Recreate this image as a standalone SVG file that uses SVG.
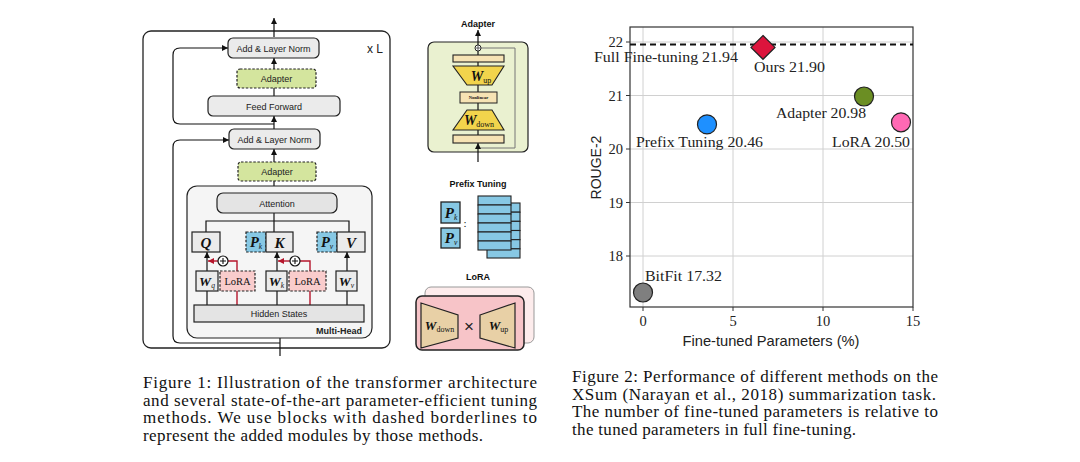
<svg xmlns="http://www.w3.org/2000/svg" width="1080" height="462" viewBox="0 0 1080 462">
<defs>
<marker id="ah" viewBox="0 0 10 10" refX="10" refY="5" markerWidth="6" markerHeight="6" markerUnits="userSpaceOnUse" orient="auto"><path d="M0,0 L10,5 L0,10 z" fill="#111"/></marker>
<marker id="ahr" viewBox="0 0 10 10" refX="10" refY="5" markerWidth="6" markerHeight="6" markerUnits="userSpaceOnUse" orient="auto"><path d="M0,0 L10,5 L0,10 z" fill="#b5152b"/></marker>
</defs>
<style>
.sans{font-family:"Liberation Sans",Arial,sans-serif;fill:#222}
.lbl{font-family:"Liberation Sans",Arial,sans-serif;font-size:9px;fill:#222;text-anchor:middle}
.ttl{font-family:"Liberation Sans",Arial,sans-serif;font-size:9px;font-weight:bold;fill:#111;text-anchor:middle}
.math{font-family:"Liberation Serif","Times New Roman",serif;font-weight:bold;font-style:italic;fill:#111;text-anchor:middle}
.sub{font-style:italic;font-weight:normal}
.rom{font-style:normal;font-weight:normal}
.serif{font-family:"Liberation Serif","Times New Roman",serif;fill:#111}
.gbox{fill:#ebebeb;stroke:#222;stroke-width:1.2}
.dash{stroke-dasharray:2.5 1.6}
.ln{stroke:#111;stroke-width:1.2;fill:none}
.red{stroke:#b5152b;stroke-width:1.4;fill:none}
.grid{stroke:#d0d0d0;stroke-width:1}
.tick{stroke:#333;stroke-width:1}
.tl{font-family:"Liberation Serif","Times New Roman",serif;font-size:14.5px;fill:#222}
.pl{font-family:"Liberation Serif","Times New Roman",serif;font-size:15.5px;fill:#222}
.cap{font-family:"Liberation Serif","Times New Roman",serif;font-size:17px;fill:#111}
.pt{stroke:#222;stroke-width:1.2}
</style>

<!-- ===== Transformer block ===== -->
<g id="outer-block">
<rect x="143" y="31" width="247" height="317" rx="8" fill="#fff" stroke="#222" stroke-width="1.3"/>
<text x="367" y="53" class="sans" font-size="12">x L</text>
</g>

<g id="connectors">
<line x1="274" y1="37" x2="274" y2="18" class="ln" marker-end="url(#ah)"/>
<line x1="274" y1="69" x2="274" y2="58" class="ln" marker-end="url(#ah)"/>
<line x1="274" y1="96" x2="274" y2="88" class="ln"/>
<line x1="274" y1="129" x2="274" y2="116" class="ln" marker-end="url(#ah)"/>
<path d="M274,124 H180 Q173,124 173,117 V55 Q173,48 180,48 H228" class="ln" marker-end="url(#ah)"/>
<line x1="274" y1="162" x2="274" y2="149" class="ln" marker-end="url(#ah)"/>
<line x1="274" y1="193" x2="274" y2="181" class="ln"/>
<path d="M280,343 H180 Q173,343 173,336 V147 Q173,140 180,140 H229" class="ln" marker-end="url(#ah)"/>
<line x1="280" y1="356" x2="280" y2="322" class="ln" marker-end="url(#ah)"/>
</g>

<g id="add-norm-1">
<rect x="228" y="38" width="91" height="20" rx="5" class="gbox"/>
<text x="273.5" y="51.5" class="lbl">Add &amp; Layer Norm</text>
</g>
<g id="adapter-1">
<rect x="237" y="69" width="79" height="19" rx="3" fill="#d4e59e" stroke="#222" stroke-width="1.2" class="dash"/>
<text x="276.5" y="81.5" class="lbl">Adapter</text>
</g>
<g id="feed-forward">
<rect x="208" y="96" width="132" height="20" rx="5" class="gbox"/>
<text x="274" y="109.5" class="lbl">Feed Forward</text>
</g>
<g id="add-norm-2">
<rect x="229" y="129" width="91" height="20" rx="5" class="gbox"/>
<text x="274.5" y="142.5" class="lbl">Add &amp; Layer Norm</text>
</g>
<g id="adapter-2">
<rect x="238" y="162" width="78" height="19" rx="3" fill="#d4e59e" stroke="#222" stroke-width="1.2" class="dash"/>
<text x="277" y="174.5" class="lbl">Adapter</text>
</g>

<g id="multi-head">
<rect x="187" y="186" width="185" height="152" rx="10" fill="#f5f5f5" stroke="#222" stroke-width="1.2"/>
<text x="362" y="334" class="sans" font-size="9" font-weight="bold" text-anchor="end">Multi-Head</text>
</g>

<g id="mh-connectors">
<line x1="274" y1="213" x2="274" y2="232" class="ln"/>
<polyline points="206,232 206,221 349,221 349,232" class="ln"/>
<line x1="207" y1="305" x2="207" y2="291" class="ln"/>
<line x1="277" y1="305" x2="277" y2="291" class="ln"/>
<line x1="347" y1="305" x2="347" y2="291" class="ln"/>
<line x1="207" y1="271" x2="207" y2="252" class="ln" marker-end="url(#ah)"/>
<line x1="277" y1="271" x2="277" y2="252" class="ln" marker-end="url(#ah)"/>
<line x1="347" y1="271" x2="347" y2="252" class="ln" marker-end="url(#ah)"/>
<line x1="237" y1="305" x2="237" y2="291" class="red"/>
<line x1="310" y1="305" x2="310" y2="291" class="red"/>
<path d="M237,271 V261 H228" class="red"/>
<path d="M310,271 V261 H300" class="red"/>
<line x1="218" y1="261" x2="208" y2="261" class="red" marker-end="url(#ahr)"/>
<line x1="290" y1="261" x2="278" y2="261" class="red" marker-end="url(#ahr)"/>
</g>

<g id="attention">
<rect x="217" y="193" width="120" height="20" rx="6" fill="#e4e4e4" stroke="#222" stroke-width="1.2"/>
<text x="277" y="207" class="lbl" font-size="10">Attention</text>
</g>
<g id="q">
<rect x="192" y="232" width="28" height="20" class="gbox"/>
<text x="206" y="247.5" class="math" font-size="15">Q</text>
</g>
<g id="pk">
<rect x="246" y="232" width="20" height="20" fill="#87c8e4" stroke="#222" stroke-width="1.2" class="dash"/>
<text x="256" y="247" class="math" font-size="14.5">P<tspan class="sub" font-size="7.5" dy="2">k</tspan></text>
</g>
<g id="k">
<rect x="266" y="232" width="27" height="20" class="gbox"/>
<text x="279.5" y="247.5" class="math" font-size="15">K</text>
</g>
<g id="pv">
<rect x="317" y="232" width="20" height="20" fill="#87c8e4" stroke="#222" stroke-width="1.2" class="dash"/>
<text x="327" y="247" class="math" font-size="14.5">P<tspan class="sub" font-size="7.5" dy="2">v</tspan></text>
</g>
<g id="v">
<rect x="337" y="232" width="28" height="20" class="gbox"/>
<text x="351" y="247.5" class="math" font-size="15">V</text>
</g>
<g id="plus-q">
<circle cx="223" cy="261" r="5" fill="#fff" stroke="#111" stroke-width="1.2"/>
<path d="M220,261 H226 M223,258 V264" stroke="#111" stroke-width="1.1"/>
</g>
<g id="plus-k">
<circle cx="295" cy="261" r="5" fill="#fff" stroke="#111" stroke-width="1.2"/>
<path d="M292,261 H298 M295,258 V264" stroke="#111" stroke-width="1.1"/>
</g>
<g id="wq">
<rect x="196" y="271" width="22" height="20" class="gbox"/>
<text x="207" y="285.5" class="math" font-size="13.5">W<tspan class="sub" font-size="7.5" dy="2">q</tspan></text>
</g>
<g id="lora-q">
<rect x="220" y="271" width="35" height="20" fill="#f9cccc" stroke="#222" stroke-width="1.2" class="dash"/>
<text x="237.5" y="284.5" class="serif" font-size="10.5" text-anchor="middle">LoRA</text>
</g>
<g id="wk">
<rect x="266" y="271" width="21" height="20" class="gbox"/>
<text x="276.5" y="285.5" class="math" font-size="13.5">W<tspan class="sub" font-size="7.5" dy="2">k</tspan></text>
</g>
<g id="lora-k">
<rect x="289" y="271" width="37" height="20" fill="#f9cccc" stroke="#222" stroke-width="1.2" class="dash"/>
<text x="307.5" y="284.5" class="serif" font-size="10.5" text-anchor="middle">LoRA</text>
</g>
<g id="wv">
<rect x="336" y="271" width="21" height="20" class="gbox"/>
<text x="346.5" y="285.5" class="math" font-size="13.5">W<tspan class="sub" font-size="7.5" dy="2">v</tspan></text>
</g>
<g id="hidden-states">
<rect x="194" y="305" width="170" height="17" fill="#e4e4e4" stroke="#222" stroke-width="1.2"/>
<text x="279" y="316.5" class="lbl">Hidden States</text>
</g>

<!-- ===== Adapter detail ===== -->
<g id="adapter-detail">
<text x="478" y="27" class="ttl">Adapter</text>
<rect x="428" y="42" width="100" height="110" rx="6" fill="#eaf1d0" stroke="#222" stroke-width="1.2"/>
<path d="M478,148 H515 V48 H481" stroke="#777" stroke-width="1" fill="none"/>
<line x1="478" y1="135" x2="478" y2="51" class="ln"/>
<line x1="478" y1="45" x2="478" y2="30" class="ln" marker-end="url(#ah)"/>
<line x1="478" y1="162" x2="478" y2="143" class="ln" marker-end="url(#ah)"/>
<circle cx="478" cy="48" r="3" fill="#fff" stroke="#222" stroke-width="1"/>
<path d="M476,48 H480 M478,46 V50" stroke="#222" stroke-width="0.7"/>
<rect x="453" y="55" width="51" height="7" fill="#f6e3b4" stroke="#222" stroke-width="1.1"/>
<polygon points="453,66 504,66 492,85 467,85" fill="#f2d44c" stroke="#222" stroke-width="1.1"/>
<text x="481" y="80.5" class="math" font-size="14">W<tspan class="rom" font-size="8" dy="2">up</tspan></text>
<rect x="460" y="92" width="37" height="11" fill="#f6e3b4" stroke="#222" stroke-width="1"/>
<text x="478.5" y="99.3" class="serif" font-size="4.6" font-weight="bold" text-anchor="middle">Nonlinear</text>
<polygon points="467,110 492,110 504,130 453,130" fill="#f2d44c" stroke="#222" stroke-width="1.1"/>
<text x="479" y="125" class="math" font-size="14">W<tspan class="rom" font-size="8" dy="2">down</tspan></text>
<rect x="453" y="135" width="51" height="8" fill="#f6e3b4" stroke="#222" stroke-width="1.1"/>
</g>

<!-- ===== Prefix tuning detail ===== -->
<g id="prefix-detail">
<text x="478" y="187" class="ttl">Prefix Tuning</text>
<rect x="441" y="202" width="19" height="21" fill="#87c8e4" stroke="#222" stroke-width="1.3"/>
<text x="451" y="217.5" class="math" font-size="15">P<tspan class="sub" font-size="7.5" dy="2">k</tspan></text>
<rect x="441" y="228" width="19" height="20" fill="#87c8e4" stroke="#222" stroke-width="1.3"/>
<text x="451" y="243" class="math" font-size="15">P<tspan class="sub" font-size="7.5" dy="2">v</tspan></text>
<text x="465" y="227" class="serif" font-size="11" text-anchor="middle">:</text>
<g fill="#87c8e4" stroke="#222" stroke-width="1.1">
<rect x="487" y="203" width="33" height="9.17"/>
<rect x="487" y="212.17" width="33" height="9.17"/>
<rect x="487" y="221.33" width="33" height="9.17"/>
<rect x="487" y="230.5" width="33" height="9.17"/>
<rect x="487" y="239.67" width="33" height="9.17"/>
<rect x="487" y="248.83" width="33" height="9.17"/>
<rect x="478" y="196" width="33" height="9"/>
<rect x="478" y="205" width="33" height="9"/>
<rect x="478" y="214" width="33" height="9"/>
<rect x="478" y="223" width="33" height="9"/>
<rect x="478" y="232" width="33" height="9"/>
<rect x="478" y="241" width="33" height="9"/>
</g>
</g>

<!-- ===== LoRA detail ===== -->
<g id="lora-detail">
<text x="478" y="280" class="ttl">LoRA</text>
<rect x="425" y="287" width="109" height="56" rx="6" fill="#fdecec" stroke="#999" stroke-width="1"/>
<rect x="416" y="296" width="108" height="54" rx="6" fill="#f7c4c8" stroke="#222" stroke-width="1.5"/>
<polygon points="421,303 458,315 458,338 421,348" fill="#e8d0a6" stroke="#222" stroke-width="1.2"/>
<text x="439.5" y="330" class="math" font-size="13">W<tspan class="rom" font-size="8" dy="1.5">down</tspan></text>
<text x="469" y="332" class="sans" font-size="17" text-anchor="middle" fill="#444">×</text>
<polygon points="480,315 515,303 515,348 480,338" fill="#e8d0a6" stroke="#222" stroke-width="1.2"/>
<text x="498.5" y="330" class="math" font-size="13">W<tspan class="rom" font-size="8" dy="1.5">up</tspan></text>
</g>

<!-- ===== Chart ===== -->
<g id="chart-grid">
<line x1="643" y1="27" x2="643" y2="307" class="grid"/>
<line x1="733" y1="27" x2="733" y2="307" class="grid"/>
<line x1="823" y1="27" x2="823" y2="307" class="grid"/>
<line x1="630" y1="42" x2="913" y2="42" class="grid"/>
<line x1="630" y1="95.5" x2="913" y2="95.5" class="grid"/>
<line x1="630" y1="149" x2="913" y2="149" class="grid"/>
<line x1="630" y1="202.5" x2="913" y2="202.5" class="grid"/>
<line x1="630" y1="256" x2="913" y2="256" class="grid"/>
</g>
<g id="chart-axes">
<rect x="630" y="27" width="283" height="280" fill="none" stroke="#333" stroke-width="1.2"/>
<path d="M626,42 H630 M626,95.5 H630 M626,149 H630 M626,202.5 H630 M626,256 H630 M643,307 V311 M733,307 V311 M823,307 V311 M913,307 V311" class="tick"/>
<text x="623" y="46.5" class="tl" text-anchor="end">22</text>
<text x="623" y="100.5" class="tl" text-anchor="end">21</text>
<text x="623" y="154" class="tl" text-anchor="end">20</text>
<text x="623" y="207.5" class="tl" text-anchor="end">19</text>
<text x="623" y="261" class="tl" text-anchor="end">18</text>
<text x="643" y="326" class="tl" text-anchor="middle">0</text>
<text x="733" y="326" class="tl" text-anchor="middle">5</text>
<text x="823" y="326" class="tl" text-anchor="middle">10</text>
<text x="913" y="326" class="tl" text-anchor="middle">15</text>
<text x="771" y="346" class="sans" font-size="14.5" text-anchor="middle" textLength="177" lengthAdjust="spacingAndGlyphs">Fine-tuned Parameters (%)</text>
<text transform="translate(601,167.5) rotate(-90)" class="sans" font-size="14" text-anchor="middle">ROUGE-2</text>
</g>
<g id="full-finetuning">
<line x1="630" y1="44.5" x2="913" y2="44.5" stroke="#111" stroke-width="2" stroke-dasharray="6 4"/>
<text x="594" y="62" class="pl" textLength="144" lengthAdjust="spacingAndGlyphs">Full Fine-tuning 21.94</text>
</g>
<g id="ours">
<polygon points="763,35.5 775,47.4 763,59.3 751,47.4" fill="#dc143c" class="pt"/>
<text x="754" y="72" class="pl" textLength="71" lengthAdjust="spacingAndGlyphs">Ours 21.90</text>
</g>
<g id="adapter-pt">
<circle cx="864" cy="96.5" r="9.5" fill="#6b8e23" class="pt"/>
<text x="776" y="118" class="pl" textLength="90" lengthAdjust="spacingAndGlyphs">Adapter 20.98</text>
</g>
<g id="prefix-pt">
<circle cx="707" cy="124.4" r="9.5" fill="#1e90ff" class="pt"/>
<text x="636" y="147" class="pl" textLength="127" lengthAdjust="spacingAndGlyphs">Prefix Tuning 20.46</text>
</g>
<g id="lora-pt">
<circle cx="901" cy="122.3" r="9.5" fill="#ff69b4" class="pt"/>
<text x="832" y="147" class="pl" textLength="78" lengthAdjust="spacingAndGlyphs">LoRA 20.50</text>
</g>
<g id="bitfit-pt">
<circle cx="643" cy="292.5" r="9.5" fill="#7f7f7f" class="pt"/>
<text x="645" y="281" class="pl" textLength="77" lengthAdjust="spacingAndGlyphs">BitFit 17.32</text>
</g>

<!-- ===== Captions ===== -->
<g id="caption-1" class="cap">
<text x="143" y="388" textLength="394" lengthAdjust="spacing">Figure 1: Illustration of the transformer architecture</text>
<text x="143" y="405.5" textLength="394" lengthAdjust="spacing">and several state-of-the-art parameter-efficient tuning</text>
<text x="143" y="423" textLength="394" lengthAdjust="spacing">methods.  We use blocks with dashed borderlines to</text>
<text x="143" y="440.5" textLength="340" lengthAdjust="spacing">represent the added modules by those methods.</text>
</g>
<g id="caption-2" class="cap">
<text x="572" y="382" textLength="366" lengthAdjust="spacing">Figure 2: Performance of different methods on the</text>
<text x="572" y="399.5" textLength="364" lengthAdjust="spacing">XSum (Narayan et al., 2018) summarization task.</text>
<text x="572" y="417" textLength="366" lengthAdjust="spacing">The number of fine-tuned parameters is relative to</text>
<text x="572" y="434.5" textLength="284" lengthAdjust="spacing">the tuned parameters in full fine-tuning.</text>
</g>
</svg>
